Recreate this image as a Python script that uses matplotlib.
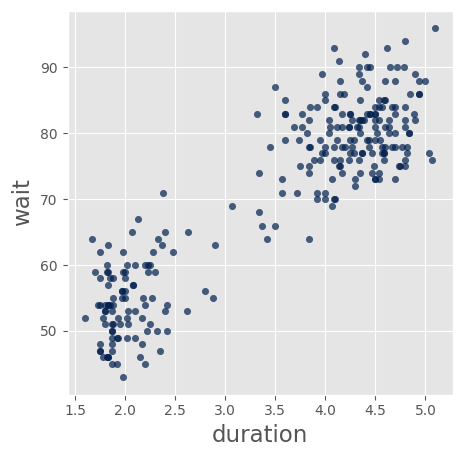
import matplotlib
matplotlib.use("Agg")
import matplotlib.pyplot as plt

duration = [3.600,1.800,3.333,2.283,4.533,2.883,4.700,3.600,1.950,4.350,1.833,3.917,4.200,1.750,4.700,2.167,1.750,4.800,1.600,4.250,1.800,1.750,3.450,3.067,4.533,3.600,1.967,4.083,3.850,4.433,4.300,4.467,3.367,4.033,3.833,2.017,1.867,4.833,1.833,4.783,4.350,1.883,4.567,1.750,4.533,3.317,3.833,2.100,4.633,2.000,4.800,4.716,1.833,4.833,1.733,4.883,3.717,1.667,4.567,4.317,2.233,4.500,1.750,4.800,1.817,4.400,4.167,4.700,2.067,4.700,4.033,1.967,4.500,4.000,1.983,5.067,2.017,4.567,3.883,3.600,4.133,4.333,4.100,2.633,4.067,4.933,3.950,4.517,2.167,4.000,2.200,4.333,1.867,4.817,1.833,4.300,4.667,3.750,1.867,4.900,2.483,4.367,2.100,4.500,4.050,1.867,4.700,1.783,4.850,3.683,4.733,2.300,4.900,4.417,1.700,4.633,2.317,4.600,1.817,4.417,2.617,4.067,4.250,1.967,4.600,3.767,1.917,4.500,2.267,4.650,1.867,4.167,2.800,4.333,1.833,4.383,1.883,4.933,2.033,3.733,4.233,2.233,4.533,4.817,4.333,1.983,4.633,2.017,5.100,1.800,5.033,4.000,2.400,4.600,3.567,4.000,4.500,4.083,1.800,3.967,2.200,4.150,2.000,3.833,3.500,4.583,2.367,5.000,1.933,4.617,1.917,2.083,4.583,3.333,4.167,4.333,4.500,2.417,4.000,4.167,1.883,4.583,4.250,3.767,2.033,4.433,4.083,1.833,4.417,2.183,4.800,1.833,4.800,4.100,3.966,4.233,3.500,4.366,2.250,4.667,2.100,4.350,4.133,1.867,4.600,1.783,4.367,3.850,1.933,4.500,2.383,4.700,1.867,3.833,3.417,4.233,2.400,4.800,2.000,4.150,1.867,4.267,1.750,4.483,4.000,4.117,4.083,4.267,3.917,4.550,4.083,2.417,4.183,2.217,4.450,1.883,1.850,4.283,3.950,2.333,4.150,2.350,4.933,2.900,4.583,3.833,2.083,4.367,2.133,4.350,2.200,4.450,3.567,4.500,4.150,3.817,3.917,4.450,2.000,4.283,4.767,4.533,1.850,4.250,1.983,2.250,4.750,4.117,2.150,4.417,1.817,4.467]
wait = [79,54,74,62,85,55,88,85,51,85,54,84,78,47,83,52,62,84,52,79,51,47,78,69,74,83,55,76,78,79,73,77,66,80,74,52,48,80,59,90,80,58,84,58,73,83,64,53,82,59,75,90,54,80,54,83,71,64,77,81,59,84,48,82,60,92,78,78,65,73,82,56,79,71,62,76,60,78,76,83,75,82,70,65,73,88,76,80,48,86,60,90,50,78,63,72,84,75,51,82,62,88,49,83,81,47,84,52,86,81,75,59,89,79,59,81,50,85,59,87,53,69,77,56,88,81,45,82,55,90,45,83,56,89,46,82,51,86,53,79,81,60,82,77,76,59,80,49,96,53,77,77,65,81,71,70,81,93,53,89,45,86,58,78,66,76,63,88,52,93,49,57,77,68,81,81,73,50,85,74,55,77,83,83,51,78,84,46,83,55,81,57,76,84,77,81,87,77,51,78,60,82,91,53,78,46,77,84,49,83,71,80,49,75,64,76,53,94,55,76,50,82,54,75,78,79,78,78,70,79,70,54,86,50,90,54,54,77,79,64,75,47,86,63,85,82,57,82,67,74,54,83,73,73,88,80,71,83,56,79,78,84,58,83,43,60,75,81,46,90,46,74]
n = min(len(duration), len(wait))

plt.style.use("ggplot")
fig = plt.figure(figsize=(4.63, 4.57), dpi=100)
ax = fig.add_axes([67.5/463, 1-394.5/457, 385.5/463, 384/457])
ax.scatter(duration[:n], wait[:n], s=26, c="#001f4d", alpha=0.7, linewidths=0)
ax.set_xlabel("duration", fontsize=16.5, labelpad=4.5)
ax.set_ylabel("wait", fontsize=16.5, labelpad=4.5)
ax.tick_params(labelsize=10)
fig.savefig("out.png", dpi=100)
